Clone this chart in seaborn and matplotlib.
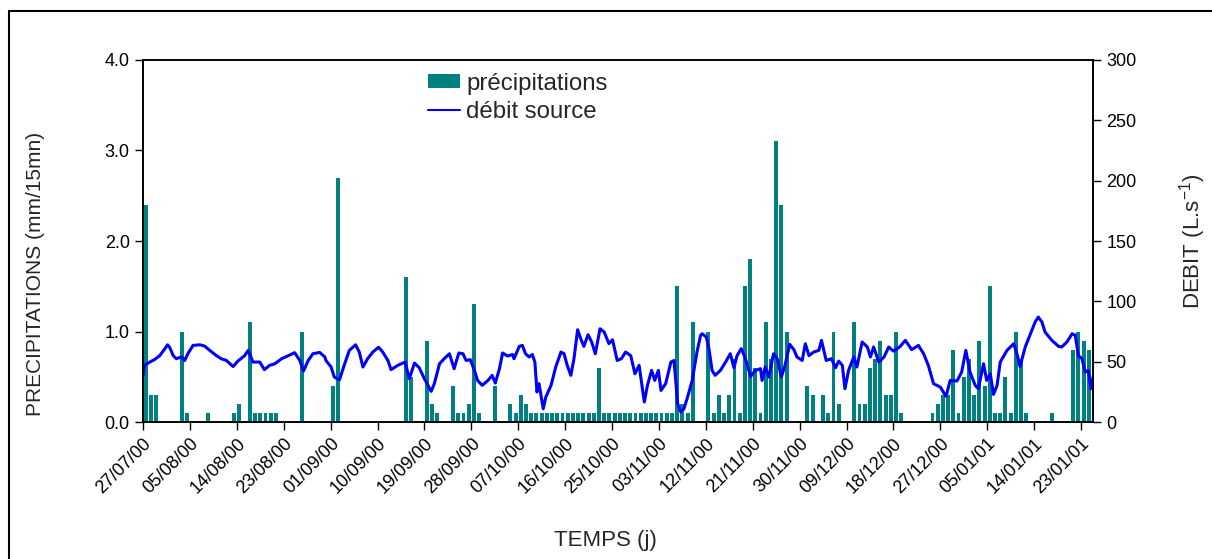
import matplotlib
matplotlib.use('Agg')
import numpy as np
import pandas as pd
import matplotlib.pyplot as plt
import seaborn as sns
from matplotlib.patches import Patch
from matplotlib.lines import Line2D

# jours comptés depuis le 27/07/00
date_labels = ['27/07/00', '05/08/00', '14/08/00', '23/08/00', '01/09/00', '10/09/00',
               '19/09/00', '28/09/00', '07/10/00', '16/10/00', '25/10/00', '03/11/00',
               '12/11/00', '21/11/00', '30/11/00', '09/12/00', '18/12/00', '27/12/00',
               '05/01/01', '14/01/01', '23/01/01']
date_ticks = [0, 9, 18, 27, 36, 45, 54, 63, 72, 81, 90, 99, 108, 117, 126, 135,
              144, 153, 162, 171, 180]

# précipitations (mm/15mn) par jour
rain_day = [0, 1, 2, 7, 8, 12, 17, 18, 20, 21, 22, 23, 24, 25, 30, 36, 37,
            50, 51, 54, 55, 56, 59, 60, 61, 62, 63, 64, 67, 70, 71, 72, 73,
            74, 75, 76, 77, 78, 79, 80, 81, 82, 83, 84, 85, 86, 87,
            88, 89, 90, 91, 92, 93, 94, 95, 96, 97, 98, 99, 100, 101,
            102, 103, 104, 105, 108, 109, 110, 111, 112, 113, 114, 115, 116, 117,
            118, 119, 120, 121, 122, 123,
            127, 128, 130, 131, 132, 133, 136, 137, 138, 139, 140, 141, 142, 143, 144, 145,
            151, 152, 153, 154, 155, 156, 157, 158, 159, 160, 161, 162, 163, 164,
            165, 166, 167, 168, 169,
            174, 178, 179, 180, 181]
rain_mm = [2.4, 0.3, 0.3, 1.0, 0.1, 0.1, 0.1, 0.2, 1.1, 0.1, 0.1, 0.1, 0.1, 0.1, 1.0, 0.4, 2.7,
           1.6, 0.5, 0.9, 0.2, 0.1, 0.4, 0.1, 0.1, 0.2, 1.3, 0.1, 0.4, 0.2, 0.1, 0.3, 0.2,
           0.1, 0.1, 0.1, 0.1, 0.1, 0.1, 0.1, 0.1, 0.1, 0.1, 0.1, 0.1, 0.1, 0.6,
           0.1, 0.1, 0.1, 0.1, 0.1, 0.1, 0.1, 0.1, 0.1, 0.1, 0.1, 0.1, 0.1, 0.1,
           1.5, 0.2, 0.1, 1.1, 1.0, 0.1, 0.3, 0.1, 0.3, 0.7, 0.1, 1.5, 1.8, 0.6,
           0.1, 1.1, 0.7, 3.1, 2.4, 1.0,
           0.4, 0.3, 0.3, 0.1, 1.0, 0.2, 1.1, 0.2, 0.2, 0.6, 0.7, 0.9, 0.3, 0.3, 1.0, 0.1,
           0.1, 0.2, 0.3, 0.3, 0.8, 0.1, 0.5, 0.7, 0.3, 0.9, 0.4, 1.5, 0.1, 0.1,
           0.5, 0.1, 1.0, 0.7, 0.1,
           0.1, 0.8, 1.0, 0.9, 0.8]

# débit de la source (L/s)
flow_day = [0.0, 0.3, 1.3, 2.2, 3.2, 4.2, 4.7, 5.1, 5.8, 6.4, 7.4, 8.0, 8.6, 9.6, 10.9,
            11.8, 12.8, 14.1, 15.0, 16.0, 17.3, 18.2, 19.5, 20.2, 21.1, 22.4, 23.3, 24.3,
            25.3, 26.6, 27.9, 29.1, 30.1, 30.8, 31.7, 32.6, 33.9, 34.9,
            35.1, 36.1, 36.7, 37.7, 38.6, 39.6, 40.8, 41.5, 42.2, 43.1, 44.1, 45.2, 46.0,
            47.0, 47.6, 48.9, 50.3, 51.1, 52.1, 53.0, 54.0, 55.3, 55.9, 56.9, 57.8, 58.8,
            59.7, 60.6, 61.4, 62.0, 62.8, 63.6, 64.2, 65.1, 66.2, 67.0, 67.6, 68.4, 69.0,
            70.0, 70.9,
            71.2, 72.2, 72.8, 73.4, 74.1, 74.7, 75.2, 75.6, 76.0, 76.8, 77.3, 78.3, 79.2,
            80.2, 80.8, 81.4, 82.1, 82.7, 83.4, 84.0, 84.6, 85.4, 86.1, 86.8, 87.7, 88.5,
            89.4, 90.1, 91.0, 91.8, 92.6, 93.6, 94.4, 95.2, 96.2, 96.8, 97.6, 98.2, 98.9,
            99.4, 100.3, 101.3, 101.9, 102.6, 103.2, 103.8, 104.5, 105.4, 106.3, 107.0,
            107.3, 108.1, 108.6, 109.2, 109.8, 110.8, 111.8, 112.7, 113.4, 114.0, 114.8,
            115.5, 116.6, 117.5, 118.5, 118.8, 119.4, 120.1, 121.0, 121.7, 122.5, 123.2,
            124.1, 124.9, 125.5, 126.5, 127.1, 127.8, 128.7, 129.7, 130.2, 131.1, 132.1,
            132.9, 133.5, 134.2, 134.7, 135.4, 136.4, 137.0, 138.0, 139.0, 139.6, 140.2,
            141.2, 142.2, 143.1,
            144.0, 145.2, 146.3, 147.5, 148.8, 149.8, 150.7, 151.7, 153.0, 154.1, 154.9,
            156.2, 157.1, 157.9, 158.7, 159.7, 160.3, 161.3, 161.9, 162.6, 163.2, 163.9,
            164.5, 165.8, 167.1, 167.7, 168.3, 169.3, 170.3, 171.2, 171.8, 172.5, 173.1,
            174.4, 175.7, 176.3, 177.3, 178.3, 178.9, 179.5, 180.2, 180.8, 181.4, 181.9,
            182.3]
flow_ls = [38.7, 47, 49.7, 51.7, 55, 60.8, 64, 62, 55, 52.5, 54, 51, 56.6, 63.5, 64,
           63, 59.4, 55, 52.5, 51, 46, 50.5, 55, 59.4, 49.7, 49.7, 43.4, 47,
           48.3, 52.5, 55, 57.5, 51, 42.3, 51, 56.6, 57.7, 53.9,
           51, 45.6, 37.3, 35, 47, 59.4, 64, 58, 45.6, 52.5, 58, 62, 58,
           51, 43.4, 47, 49.7, 35.9, 48.9, 45, 35.9, 25.4, 31.8, 48.3, 52.5, 56.6,
           44.2, 57.2, 56.6, 51, 51.7, 42.8, 34.5, 30.4, 34.5, 38.7, 32.3, 44.2, 57.2,
           54.7, 56,
           52.5, 62.7, 63.5, 56.6, 53.9, 56, 49.7, 24.9, 31.8, 11, 20.7, 30.4, 45.6,
           58, 56.6, 47, 38.7, 52.5, 76.5, 69, 62.7, 72.4, 66.3, 56.6, 77.3, 74.6,
           65, 68.2, 51, 52.5, 58, 55, 40, 47, 16.6, 30.4, 42.8, 34.5, 42.8,
           26.2, 31.8, 49.7, 51, 15.2, 8.3, 11, 20.7, 34.5, 58, 71.8,
           73.2, 70.4, 60.8, 42.8, 38.7, 42.8, 49.7, 56.6, 45, 55, 60.8,
           53.9, 37.8, 42.8, 44.2, 34.5, 45.6, 37.3, 56.6, 52.5, 37.3, 47,
           64.4, 60, 53.9, 51, 64.9, 55, 58, 59.4, 67.7, 51, 52.5,
           45, 50.5, 47, 27.6, 42.8, 53.9, 45.6, 66.3, 62.2, 53.9, 62.2,
           49.7, 53.9, 62.2,
           58.8, 62.2, 67.7, 60, 63.5, 56.6, 47, 31.8, 29, 21.3, 34.5,
           34, 41.4, 59.4, 41.4, 30.4, 27.6, 48.3, 34.5, 40, 22.9, 30.4,
           49.7, 59.4, 64.9, 56.6, 46, 62.2, 73.2, 82.9, 87, 82.9, 74.6,
           67.7, 62.7, 62.2, 66.3, 73.2, 71.8, 55, 52.5, 41.4, 42.8, 27.6,
           37.3]

left_ticks = [0, 1, 2, 3, 4]
left_labels = ['0.0', '1.0', '2.0', '3.0', '4.0']
right_ticks = [0, 50, 100, 150, 200, 250, 300]

TEAL = '#008080'
BLUE = '#0000FF'

sns.set_style('ticks')
plt.rcParams['font.family'] = ['Liberation Sans', 'DejaVu Sans']
plt.rcParams['mathtext.default'] = 'regular'

fig, ax = plt.subplots(figsize=(12.12, 5.59), dpi=100)
fig.subplots_adjust(left=0.118, right=0.9018, bottom=0.245, top=0.8927)

rain = pd.DataFrame({'jour': np.array(rain_day) + 0.5, 'pluie': rain_mm})
sns.barplot(data=rain, x='jour', y='pluie', native_scale=True, width=0.75,
            color=TEAL, saturation=1, errorbar=None, linewidth=0, ax=ax)

ax2 = ax.twinx()
flow = pd.DataFrame({'jour': flow_day, 'debit': flow_ls})
sns.lineplot(data=flow, x='jour', y='debit', color=BLUE, lw=2.2, ax=ax2)

ax.set_xlim(0, 182.3)
ax.set_ylim(0, 4)
ax2.set_ylim(0, 300)
ax.set_xticks(date_ticks)
ax.set_xticklabels(date_labels, rotation=45, ha='right', rotation_mode='anchor')
ax.set_yticks(left_ticks)
ax.set_yticklabels(left_labels)
ax2.set_yticks(right_ticks)

for a in (ax, ax2):
    a.tick_params(direction='out', length=6, width=1, labelsize=13, colors='black')
    for s in a.spines.values():
        s.set_visible(True)
        s.set_color('black')
        s.set_linewidth(1.2)

ax.set_xlabel('TEMPS (j)', fontsize=16)
ax.set_ylabel('PRECIPITATIONS (mm/15mn)', fontsize=15)
ax2.set_ylabel('DEBIT (L.s$^{-1}$)', fontsize=16)
ax.xaxis.set_label_coords(0.487, -0.298)
ax.yaxis.set_label_coords(-0.103, 0.41)
ax2.yaxis.set_label_coords(1.089, 0.5)

handles = [Patch(facecolor=TEAL, edgecolor='none'), Line2D([], [], color=BLUE, lw=1.5)]
ax2.legend(handles, ['précipitations', 'débit source'], loc='upper left',
           bbox_to_anchor=(0.30, 0.965), frameon=False, fontsize=17.3,
           handlelength=1.35, handleheight=0.5, handletextpad=0.25,
           labelspacing=0.25, borderaxespad=0, borderpad=0)

# cadre de la figure
fig.add_artist(Line2D([9 / 1212, 9 / 1212], [0, 1 - 11 / 559],
                      transform=fig.transFigure, color='black', lw=1.5))
fig.add_artist(Line2D([9 / 1212, 1], [1 - 11 / 559, 1 - 11 / 559],
                      transform=fig.transFigure, color='black', lw=1.5))

fig.savefig('out.png', dpi=100)
